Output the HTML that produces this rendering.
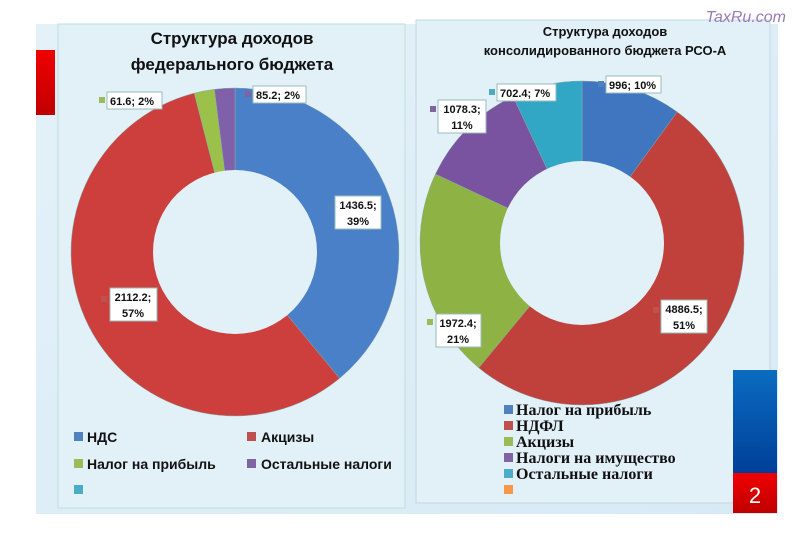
<!DOCTYPE html>
<html><head><meta charset="utf-8"><style>
body{margin:0;width:800px;height:533px;background:#fff;overflow:hidden;font-family:"Liberation Sans","DejaVu Sans",sans-serif}
</style></head><body>
<svg id="s" width="800" height="533" xmlns="http://www.w3.org/2000/svg" style="position:absolute;left:0;top:0">
<defs>
<linearGradient id="bg" x1="0" y1="0" x2="1" y2="1"><stop offset="0" stop-color="#e4f1f9"/><stop offset="1" stop-color="#d6eaf5"/></linearGradient>
<linearGradient id="rb" x1="0" y1="0" x2="0" y2="1"><stop offset="0" stop-color="#f00000"/><stop offset="1" stop-color="#c00000"/></linearGradient>
<linearGradient id="bb" x1="0" y1="0" x2="0" y2="1"><stop offset="0" stop-color="#0b6cc0"/><stop offset="1" stop-color="#003f99"/></linearGradient>
</defs>
<rect x="36" y="24" width="742" height="490" fill="url(#bg)"/>
<rect x="36" y="50" width="19" height="65" fill="url(#rb)"/>
<rect x="58" y="24" width="347" height="484" fill="#e2f0f8" stroke="#bfe0d8" stroke-width="1"/>
<rect x="416" y="20" width="354" height="483" fill="#e2f0f8" stroke="#c5d8e2" stroke-width="1"/>
<g id="d1"></g><g id="d2"></g>
<circle cx="235" cy="252" r="82" fill="#e2f0f8"/>
<circle cx="582" cy="243" r="82" fill="#e2f0f8"/>
<rect x="733" y="370" width="44" height="103" fill="url(#bb)"/>
<rect x="733" y="473" width="44" height="40" fill="url(#rb)"/>
<text x="755" y="503" font-size="22" fill="#fff" text-anchor="middle">2</text>
<text x="786" y="22" font-size="16" font-style="italic" fill="#9a7ab8" text-anchor="end">TaxRu.com</text>
<g font-weight="bold" font-size="17" fill="#111" text-anchor="middle">
<text x="232" y="44">Структура доходов</text>
<text x="232" y="70">федерального бюджета</text>
</g>
<g font-weight="bold" font-size="13" fill="#111" text-anchor="middle">
<text x="605" y="36">Структура доходов</text>
<text x="605" y="55">консолидированного бюджета РСО-А</text>
</g>
<g font-size="11" font-weight="bold" fill="#111" stroke-width="1">
<rect x="107" y="92" width="55" height="17" fill="#fff" stroke="#9bb"/><rect x="99" y="97" width="6" height="6" fill="#9bbb59"/><text x="110" y="105">61.6; 2%</text>
<rect x="253" y="86" width="53" height="17" fill="#fff" stroke="#9bb"/><rect x="245" y="91" width="6" height="6" fill="#8064a2"/><text x="256" y="99">85.2; 2%</text>
<rect x="335" y="196" width="46" height="33" fill="#fff" stroke="#9bb"/><rect x="327" y="204" width="6" height="6" fill="#4f81bd"/><text x="358" y="209" text-anchor="middle">1436.5;</text><text x="358" y="225" text-anchor="middle">39%</text>
<rect x="110" y="288" width="47" height="33" fill="#fff" stroke="#9bb"/><rect x="101" y="296" width="6" height="6" fill="#c0504d"/><text x="133" y="301" text-anchor="middle">2112.2;</text><text x="133" y="317" text-anchor="middle">57%</text>
<rect x="606" y="76" width="55" height="17" fill="#fff" stroke="#9bb"/><rect x="598" y="81" width="6" height="6" fill="#4f81bd"/><text x="609" y="89">996; 10%</text>
<rect x="497" y="84" width="59" height="17" fill="#fff" stroke="#9bb"/><rect x="489" y="89" width="6" height="6" fill="#4bacc6"/><text x="500" y="97">702.4; 7%</text>
<rect x="438" y="100" width="48" height="33" fill="#fff" stroke="#9bb"/><rect x="430" y="106" width="6" height="6" fill="#8064a2"/><text x="462" y="113" text-anchor="middle">1078.3;</text><text x="462" y="129" text-anchor="middle">11%</text>
<rect x="661" y="300" width="46" height="33" fill="#fff" stroke="#9bb"/><rect x="653" y="307" width="6" height="6" fill="#c0504d"/><text x="684" y="313" text-anchor="middle">4886.5;</text><text x="684" y="329" text-anchor="middle">51%</text>
<rect x="436" y="314" width="45" height="33" fill="#fff" stroke="#9bb"/><rect x="427" y="319" width="6" height="6" fill="#9bbb59"/><text x="458" y="327" text-anchor="middle">1972.4;</text><text x="458" y="343" text-anchor="middle">21%</text>
</g>
<g font-size="14" font-weight="bold" fill="#111">
<rect x="74" y="432" width="9" height="9" fill="#4f81bd"/><text x="87" y="442">НДС</text>
<rect x="247" y="432" width="9" height="9" fill="#c0504d"/><text x="261" y="442">Акцизы</text>
<rect x="74" y="459" width="9" height="9" fill="#9bbb59"/><text x="87" y="469">Налог на прибыль</text>
<rect x="247" y="459" width="9" height="9" fill="#8064a2"/><text x="261" y="469">Остальные налоги</text>
<rect x="74" y="485" width="9" height="9" fill="#4bacc6"/>
</g>
<g font-size="16" font-weight="bold" fill="#111" font-family="Liberation Serif,serif">
<rect x="504" y="405" width="9" height="9" fill="#4f81bd"/><text x="516" y="415">Налог на прибыль</text>
<rect x="504" y="421" width="9" height="9" fill="#c0504d"/><text x="516" y="431">НДФЛ</text>
<rect x="504" y="437" width="9" height="9" fill="#9bbb59"/><text x="516" y="447">Акцизы</text>
<rect x="504" y="453" width="9" height="9" fill="#8064a2"/><text x="516" y="463">Налоги на имущество</text>
<rect x="504" y="469" width="9" height="9" fill="#4bacc6"/><text x="516" y="479">Остальные налоги</text>
<rect x="504" y="485" width="9" height="9" fill="#f79646"/>
</g>
</svg>
<script>
function donut(id,cx,cy,R,data){
 var g=document.getElementById(id),a=0,h='';
 data.forEach(function(d){
  var a0=a*2*Math.PI,a1=(a+d[0])*2*Math.PI;a+=d[0];
  var x0=cx+R*Math.sin(a0),y0=cy-R*Math.cos(a0),x1=cx+R*Math.sin(a1),y1=cy-R*Math.cos(a1);
  h+='<path d="M'+cx+' '+cy+'L'+x0+' '+y0+'A'+R+' '+R+' 0 '+(d[0]>0.5?1:0)+' 1 '+x1+' '+y1+'Z" fill="'+d[1]+'" stroke="#8aa" stroke-width="0.5"/>';
 });
 g.innerHTML=h;
}
donut('d1',235,252,164,[[0.39,'#4a80c8'],[0.57,'#cc3f3c'],[0.02,'#9bc14a'],[0.02,'#8060a8']]);
donut('d2',582,243,162,[[0.10,'#3f76bf'],[0.51,'#c0413c'],[0.21,'#8fb244'],[0.11,'#7a53a0'],[0.07,'#31a6c5']]);
</script>
</body></html>
